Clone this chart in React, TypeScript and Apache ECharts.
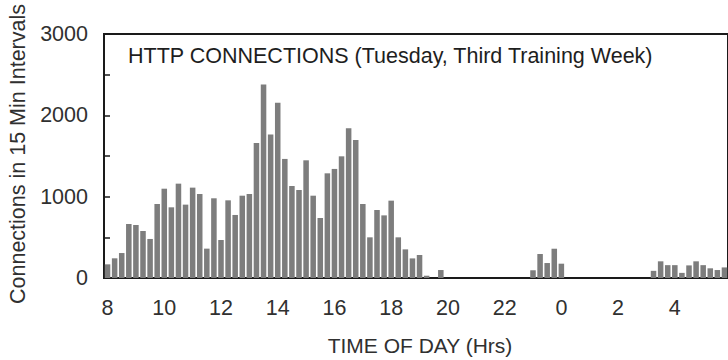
import React, { useEffect, useRef } from "react";
import * as echarts from "echarts";

// 15-minute slots starting at 08:00 (visible part of the day)
const startHour = 8;
const slotCount = 88;
const categories: string[] = [];
for (let i = 0; i < slotCount; i++) {
  const h = (startHour + Math.floor(i / 4)) % 24;
  const m = (i % 4) * 15;
  categories.push(`${h}:${m === 0 ? "00" : m}`);
}

const connections: number[] = [
  168, 242, 307, 664, 652, 578, 480, 910,
  1098, 869, 1160, 902, 1111, 1033, 361, 980,
  467, 955, 775, 1012, 1033, 1660, 2378, 1763,
  2156, 1464, 1131, 1082, 1447, 1012, 738, 1287,
  1341, 1496, 1840, 1697, 910, 500, 836, 770,
  951, 500, 352, 241, 283, 28, 0, 98,
  0, 0, 0, 0, 0, 0, 0, 0,
  0, 0, 0, 0, 95, 295, 184, 360,
  176, 0, 0, 0, 0, 0, 0, 0,
  0, 0, 0, 0, 0, 88, 205, 158,
  158, 63, 155, 205, 158, 119, 98, 130,
];

const yTicks = [0, 1000, 2000, 3000];

const titleText = "HTTP CONNECTIONS (Tuesday, Third Training Week)";
const yName = "Connections in 15 Min Intervals";
const xName = "TIME OF DAY (Hrs)";

const FONT = "'Liberation Sans', Arial, sans-serif";

export default function App() {
  const ref = useRef<HTMLDivElement>(null);
  useEffect(() => {
    if (!ref.current) return;
    const chart = echarts.init(ref.current, undefined, { renderer: "svg" });
    chart.setOption({
      animation: false,
      backgroundColor: "#ffffff",
      grid: {
        left: 104,
        top: 34,
        bottom: 82,
        right: -6,
        show: true,
        borderColor: "#1a1a1a",
        borderWidth: 2,
        backgroundColor: "transparent",
      },
      xAxis: {
        type: "category",
        data: categories,
        boundaryGap: true,
        axisLine: { show: false },
        axisTick: { show: false },
        splitLine: { show: false },
        axisLabel: {
          interval: 7,
          margin: 19,
          fontSize: 21.5,
          color: "#303030",
          fontFamily: FONT,
          formatter: (v: string) => v.split(":")[0],
        },
      },
      yAxis: {
        type: "value",
        min: 0,
        max: 3000,
        interval: 500,
        axisLine: { show: false },
        splitLine: { show: false },
        axisTick: {
          show: true,
          inside: true,
          length: 6,
          lineStyle: { color: "#1a1a1a", width: 1.5 },
        },
        axisLabel: {
          margin: 16,
          fontSize: 21.5,
          color: "#303030",
          fontFamily: FONT,
          formatter: (v: number) => (yTicks.includes(v) ? String(v) : ""),
        },
      },
      series: [
        {
          type: "bar",
          data: connections,
          barCategoryGap: "22%",
          itemStyle: { color: "#7d7d7d" },
        },
      ],
      graphic: [
        {
          type: "text",
          x: 128,
          y: 56,
          style: {
            text: titleText,
            font: `21.5px ${FONT}`,
            fill: "#1e1e1e",
            verticalAlign: "middle",
            align: "left",
          },
        },
        {
          type: "text",
          x: 17.5,
          y: 154,
          rotation: Math.PI / 2,
          style: {
            text: yName,
            font: `21.5px ${FONT}`,
            fill: "#303030",
            verticalAlign: "middle",
            align: "center",
          },
        },
        {
          type: "text",
          x: 420,
          y: 345,
          style: {
            text: xName,
            font: `21px ${FONT}`,
            fill: "#303030",
            verticalAlign: "middle",
            align: "center",
          },
        },
      ],
    });
    return () => chart.dispose();
  }, []);
  return <div ref={ref} style={{ width: 728, height: 360, position: "absolute", left: 0, top: 0 }} />;
}
